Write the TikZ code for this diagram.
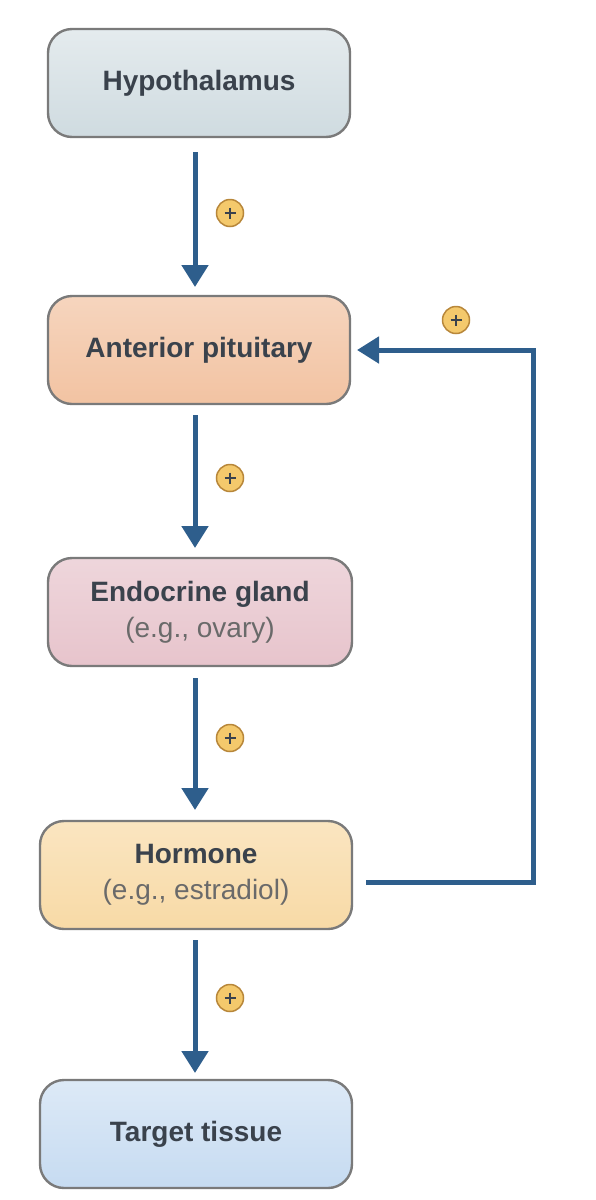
\documentclass[tikz,border=0pt]{standalone}
\usepackage{fontspec}
\setmainfont{Liberation Sans}
\usetikzlibrary{arrows.meta,calc}
\definecolor{arr}{HTML}{2E5E8C}
\definecolor{bord}{HTML}{7A7A7A}
\definecolor{txt}{HTML}{3A424C}
\definecolor{sub}{HTML}{6A6A6A}
\definecolor{hypo}{HTML}{CFDBE0}
\definecolor{ant}{HTML}{F2C3A2}
\definecolor{endo}{HTML}{E7C4CC}
\definecolor{horm}{HTML}{F8DAA6}
\definecolor{targ}{HTML}{C6DBF1}
\definecolor{plusfill}{HTML}{F4C96C}
\definecolor{plusring}{HTML}{B8873A}
\tikzset{
  gbox/.style={draw=bord, line width=2.4pt, rounded corners=24pt, minimum height=108pt, align=center, text=txt, inner sep=0pt, font=\fontsize{28}{36}\selectfont},
  flow/.style={draw=arr, line width=5pt, -{Triangle[width=26pt,length=22pt]}},
  fb/.style={draw=arr, line width=5pt},
  plus/.style={circle, draw=plusring, line width=1.5pt, fill=plusfill, minimum size=27pt, inner sep=0pt}
}
\begin{document}
\begin{tikzpicture}[x=1pt,y=-1pt]
\useasboundingbox (0,0) rectangle (595,1200);
\node[gbox, minimum width=302pt, top color=hypo!55!white, bottom color=hypo] (hyp) at (199,83) {\bfseries Hypothalamus};
\node[gbox, minimum width=302pt, top color=ant!70!white, bottom color=ant] (ant) at (199,350) {\bfseries Anterior pituitary};
\node[gbox, minimum width=304pt, top color=endo!70!white, bottom color=endo] (endo) at (200,612) {{\bfseries Endocrine gland}\\{\color{sub}(e.g., ovary)}};
\node[gbox, minimum width=312pt, top color=horm!70!white, bottom color=horm] (horm) at (196,875) {{\bfseries Hormone}\\{\color{sub}(e.g., estradiol)}};
\node[gbox, minimum width=312pt, top color=targ!60!white, bottom color=targ] (targ) at (196,1134) {\bfseries Target tissue};

\draw[flow] (195,152) -- (195,287);
\draw[flow] (195,415) -- (195,548);
\draw[flow] (195,678) -- (195,810);
\draw[flow] (195,940) -- (195,1073);

\coordinate (fbstart) at (366,882);
\coordinate (fbc1) at (533,882);
\coordinate (fbc2) at (533,350);
\coordinate (fbend) at (357,350);
\draw[fb] (fbstart) -- (fbc1) -- (fbc2) -- ($(fbend)+(18,0)$);
\draw[flow] ($(fbend)+(20,0)$) -- (fbend);

\foreach \n/\px/\py in {p1/230/213, p2/230/478, p3/230/738, p4/230/998, p5/456/320}{
  \node[plus] (\n) at (\px,\py) {};
  \draw[line width=1.4pt, txt] ($(\n)+(-5.5,0)$) -- ($(\n)+(5.5,0)$) ($(\n)+(0,-5.5)$) -- ($(\n)+(0,5.5)$);
}
\end{tikzpicture}
\end{document}
